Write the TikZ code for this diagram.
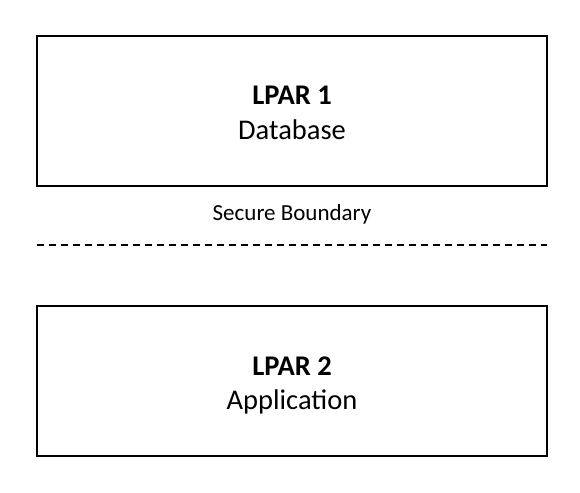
\documentclass[tikz,border=0pt]{standalone}
\usepackage{fontspec}
\setmainfont{Carlito}
\begin{document}
\begin{tikzpicture}[x=1pt,y=-1pt,
  lpar/.style={draw=black, line width=1.6pt, minimum width=510pt, minimum height=150pt, inner sep=0pt},
  title/.style={font=\fontsize{28.5}{34}\selectfont\bfseries, inner sep=0pt, anchor=base},
  role/.style={font=\fontsize{28.5}{34}\selectfont, inner sep=0pt, anchor=base},
  boundary/.style={font=\fontsize{23}{27}\selectfont, inner sep=0pt, anchor=base},
  sep/.style={line width=1.8pt, dash pattern=on 7pt off 5pt}]
\useasboundingbox (0,0) rectangle (580,492);
\node[lpar] (p1) at (292,111) {};
\node[lpar] (p2) at (292,381) {};
\node[title] (t1) at (292,105) {LPAR 1};
\node[role] (r1) at (292,139.5) {Database};
\node[title] (t2) at (292,375.5) {LPAR 2};
\node[role] (r2) at (292,409.5) {Application};
\node[boundary] (sb) at (292,220) {Secure Boundary};
\coordinate (l1) at (37,245);
\coordinate (l2) at (547,245);
\draw[sep] (l1) -- (l2);
\end{tikzpicture}
\end{document}
